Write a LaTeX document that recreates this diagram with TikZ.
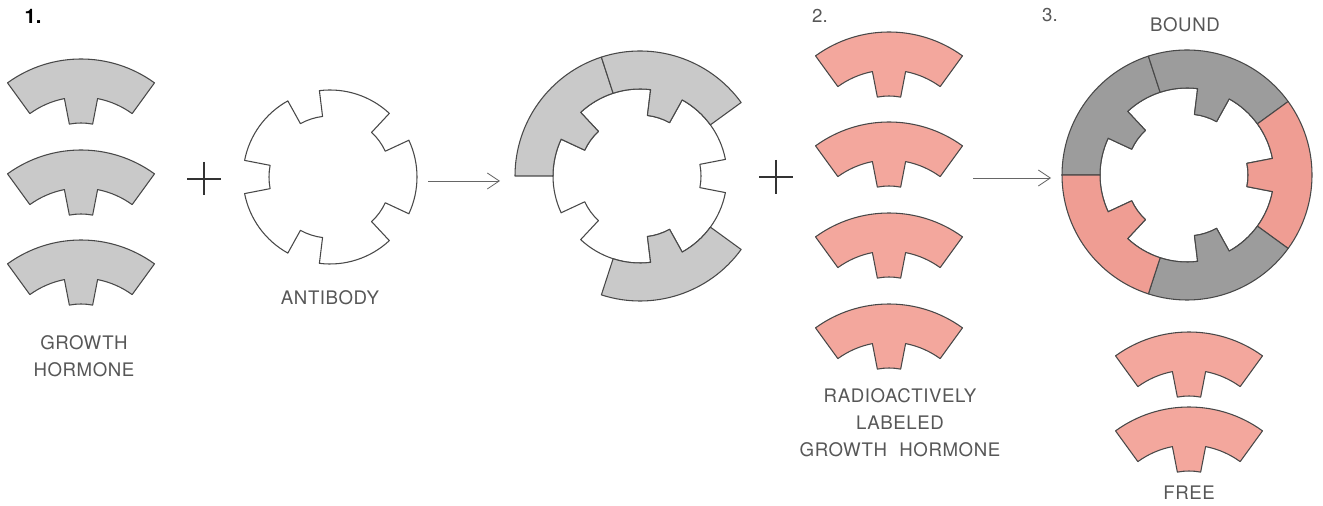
\documentclass[tikz,border=0pt]{standalone}
\usepackage{fontspec}
\setmainfont{TeX Gyre Heros}
\usetikzlibrary{arrows.meta}

\definecolor{hgray}{HTML}{C9C9C9}
\definecolor{hgraydark}{HTML}{9C9C9C}
\definecolor{hpink}{HTML}{F3A79D}
\definecolor{hpinkdeep}{HTML}{EF9D93}
\definecolor{edgecol}{HTML}{484848}
\definecolor{labelgray}{HTML}{575757}

\tikzset{
  piece/.style={draw=edgecol, line width=0.8pt, line join=round},
  plusline/.style={draw=black!80, line width=0.8pt},
  reacts/.style={draw=black!60, line width=0.6pt,
    -{Straight Barb[length=9pt, width=12pt, line width=0.6pt]}},
  lbl/.style={text=labelgray, align=center, inner sep=0pt,
    font=\fontsize{14pt}{20.3pt}\selectfont\addfontfeature{LetterSpace=3}},
  numlbl/.style={text=labelgray, inner sep=0pt,
    font=\fontsize{14pt}{17pt}\selectfont},
}

% one hormone molecule: center, direction of its middle, fill colour
\newcommand\hormone[3]{%
  \filldraw[piece, fill=#3, shift={#1}]
    (#2+36:125) arc[start angle=#2+36, end angle=#2-36, radius=125]
    -- (#2-36:87) arc[start angle=#2-36, end angle=#2-11, radius=87]
    -- (#2-11:61) arc[start angle=#2-11, end angle=#2+11, radius=61]
    -- (#2+11:87) arc[start angle=#2+11, end angle=#2+36, radius=87]
    -- cycle;}

% antibody disc with five binding notches: center, angle of one notch
\newcommand\antibody[2]{%
  \filldraw[piece, fill=white, shift={#1}]
    (#2+11:87) \foreach \k in {1,...,5}{
      arc[start angle=#2+72*\k-61, end angle=#2+72*\k-11, radius=87]
      -- (#2+72*\k-11:61)
      arc[start angle=#2+72*\k-11, end angle=#2+72*\k+11, radius=61]
      -- (#2+72*\k+11:87)} -- cycle;}

\begin{document}
\begin{tikzpicture}[x=0.75pt, y=0.75pt]
  \fill[white] (0,0) rectangle (1323,506);
  \useasboundingbox (0,0) rectangle (1323,506);

  % step 1: growth hormone + antibody
  \node[inner sep=0pt, font=\fontsize{15pt}{17pt}\selectfont\bfseries] (n1) at (33,490) {1.};
  \hormone{(81,322)}{90}{hgray}
  \hormone{(81,231)}{90}{hgray}
  \hormone{(81,141)}{90}{hgray}
  \node[lbl] (ghlabel) at (84,150) {GROWTH\\HORMONE};

  \draw[plusline] (187,327) -- (221,327) (204,344) -- (204,311);
  \coordinate (plusA) at (204,327);

  \antibody{(330,329)}{36}
  \node[lbl] (ablabel) at (330,208) {ANTIBODY};

  \coordinate (r1from) at (428,325);
  \coordinate (r1to) at (500,325);
  \draw[reacts] (r1from) -- (r1to);

  % antibody partly occupied by unlabelled hormone
  \antibody{(640,330)}{0}
  \hormone{(640,330)}{144}{hgray}
  \hormone{(640,330)}{72}{hgray}
  \hormone{(640,330)}{-72}{hgray}

  \draw[plusline] (759,329) -- (793,329) (776,346) -- (776,312);
  \coordinate (plusB) at (776,329);

  % step 2: labelled hormone
  \node[numlbl] (n2) at (820,490) {2.};
  \hormone{(889,349)}{90}{hpink}
  \hormone{(889,259)}{90}{hpink}
  \hormone{(889,168)}{90}{hpink}
  \hormone{(889,77)}{90}{hpink}
  \node[lbl] (rlabel) at (900,83) {RADIOACTIVELY\\LABELED\\GROWTH\hspace{0.35em} HORMONE};

  \coordinate (r2from) at (973,328);
  \coordinate (r2to) at (1051,328);
  \draw[reacts] (r2from) -- (r2to);

  % step 3: bound and free fractions
  \node[numlbl] (n3) at (1050,491) {3.};
  \node[lbl] (boundlabel) at (1185,481) {BOUND};
  \antibody{(1187,331)}{0}
  \hormone{(1187,331)}{144}{hgraydark}
  \hormone{(1187,331)}{72}{hgraydark}
  \hormone{(1187,331)}{0}{hpinkdeep}
  \hormone{(1187,331)}{-72}{hgraydark}
  \hormone{(1187,331)}{216}{hpinkdeep}

  \hormone{(1189,49)}{90}{hpink}
  \hormone{(1189,-26)}{90}{hpink}
  \node[lbl] (freelabel) at (1189,13) {FREE};
\end{tikzpicture}
\end{document}
